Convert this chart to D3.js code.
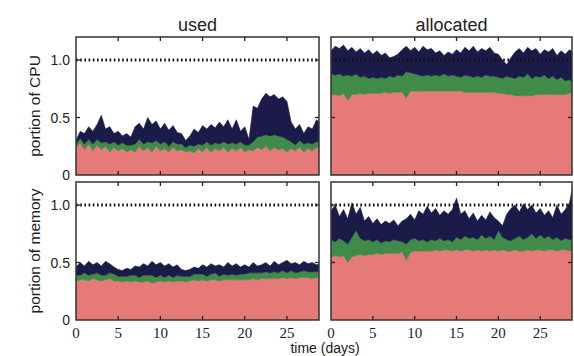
<!DOCTYPE html>
<html>
<head>
<meta charset="utf-8">
<script src="https://cdn.jsdelivr.net/npm/d3@7"></script>
<style>
  html, body { margin: 0; padding: 0; background: #fff; }
  svg { display: block; }
</style>
</head>
<body>
<svg id="chart" width="574" height="356"></svg>
<script>
// ---------- data (sampled every half day) ----------
const days = d3.range(0, 29.5, 0.5);
const layerKeys = ["pink", "green", "navy"];
const colTitles = ["used", "allocated"];
const rowTitles = ["portion of CPU", "portion of memory"];
const xTickValues = [0, 5, 10, 15, 20, 25];
const yTickValues = [0, 0.5, 1.0];
const yTickLabels = ["0", "0.5", "1.0"];
const xAxisTitle = "time (days)";
const limitValue = 1.0;

// CPU used
const cpuUsedPink = [0.24,0.28,0.22,0.27,0.21,0.26,0.22,0.25,0.20,0.24,
  0.21,0.23,0.20,0.22,0.20,0.25,0.21,0.24,0.20,0.25,
  0.21,0.23,0.20,0.24,0.21,0.22,0.20,0.21,0.19,0.23,
  0.20,0.24,0.20,0.23,0.21,0.24,0.20,0.23,0.21,0.24,
  0.20,0.22,0.21,0.24,0.22,0.25,0.21,0.24,0.22,0.23,
  0.20,0.23,0.21,0.24,0.20,0.23,0.21,0.24,0.22];
const cpuUsedGreen = [0.03,0.04,0.05,0.04,0.06,0.05,0.06,0.04,0.07,0.05,
  0.05,0.05,0.06,0.04,0.07,0.06,0.06,0.05,0.08,0.05,
  0.06,0.06,0.05,0.05,0.06,0.05,0.04,0.05,0.06,0.04,
  0.06,0.05,0.06,0.05,0.06,0.05,0.07,0.05,0.06,0.05,
  0.06,0.04,0.08,0.09,0.12,0.10,0.13,0.11,0.12,0.10,
  0.11,0.06,0.05,0.06,0.07,0.05,0.06,0.05,0.06];
const cpuUsedNavy = [0.03,0.06,0.09,0.11,0.11,0.13,0.24,0.11,0.15,0.07,
  0.12,0.06,0.10,0.07,0.15,0.14,0.13,0.21,0.16,0.17,
  0.13,0.16,0.14,0.14,0.10,0.09,0.06,0.08,0.15,0.10,
  0.17,0.11,0.18,0.13,0.19,0.13,0.21,0.12,0.21,0.09,
  0.16,0.05,0.31,0.25,0.32,0.36,0.34,0.35,0.32,0.35,
  0.33,0.17,0.14,0.14,0.09,0.14,0.13,0.19,0.17];

// CPU allocated
const cpuAllocPink = [0.70,0.70,0.69,0.71,0.65,0.70,0.70,0.71,0.70,0.71,
  0.71,0.71,0.71,0.72,0.71,0.72,0.72,0.72,0.67,0.73,
  0.73,0.73,0.73,0.73,0.73,0.73,0.73,0.73,0.73,0.73,
  0.73,0.73,0.72,0.72,0.72,0.72,0.72,0.72,0.72,0.72,
  0.71,0.71,0.70,0.70,0.69,0.69,0.69,0.69,0.69,0.70,
  0.70,0.70,0.70,0.70,0.70,0.70,0.70,0.71,0.71];
const cpuAllocGreen = [0.18,0.17,0.19,0.15,0.22,0.16,0.18,0.14,0.16,0.13,
  0.14,0.13,0.14,0.12,0.15,0.13,0.15,0.14,0.23,0.16,
  0.15,0.14,0.13,0.14,0.13,0.14,0.13,0.15,0.13,0.14,
  0.13,0.12,0.15,0.14,0.13,0.14,0.13,0.15,0.14,0.14,
  0.14,0.13,0.16,0.15,0.15,0.17,0.16,0.19,0.15,0.16,
  0.15,0.17,0.14,0.16,0.13,0.15,0.12,0.12,0.09];
const cpuAllocNavy = [0.20,0.25,0.22,0.27,0.21,0.25,0.19,0.25,0.20,0.25,
  0.20,0.24,0.19,0.22,0.16,0.18,0.18,0.23,0.22,0.19,
  0.23,0.20,0.26,0.22,0.24,0.19,0.22,0.16,0.21,0.18,
  0.23,0.21,0.24,0.22,0.27,0.21,0.25,0.21,0.25,0.20,
  0.20,0.16,0.10,0.17,0.23,0.24,0.21,0.23,0.24,0.24,
  0.20,0.22,0.23,0.24,0.21,0.23,0.23,0.26,0.26];

// memory used
const memUsedPink = [0.34,0.35,0.35,0.34,0.36,0.35,0.34,0.35,0.36,0.34,
  0.34,0.33,0.34,0.33,0.34,0.33,0.33,0.34,0.32,0.33,
  0.34,0.33,0.34,0.33,0.34,0.34,0.33,0.34,0.35,0.34,
  0.35,0.34,0.35,0.35,0.34,0.35,0.35,0.35,0.35,0.35,
  0.35,0.35,0.36,0.35,0.36,0.36,0.36,0.36,0.36,0.37,
  0.36,0.37,0.36,0.37,0.37,0.37,0.36,0.37,0.37];
const memUsedGreen = [0.05,0.04,0.06,0.05,0.04,0.06,0.05,0.04,0.05,0.06,
  0.04,0.05,0.04,0.06,0.05,0.04,0.06,0.05,0.07,0.04,
  0.05,0.04,0.05,0.04,0.05,0.04,0.05,0.04,0.05,0.06,
  0.05,0.04,0.05,0.06,0.04,0.05,0.04,0.05,0.04,0.05,
  0.05,0.06,0.05,0.06,0.05,0.06,0.05,0.06,0.05,0.06,
  0.05,0.06,0.05,0.05,0.06,0.05,0.06,0.05,0.05];
const memUsedNavy = [0.07,0.11,0.06,0.12,0.08,0.09,0.08,0.12,0.08,0.06,
  0.06,0.05,0.07,0.05,0.08,0.09,0.10,0.08,0.12,0.11,
  0.11,0.10,0.10,0.09,0.09,0.06,0.05,0.06,0.06,0.05,
  0.08,0.08,0.09,0.06,0.10,0.06,0.11,0.07,0.10,0.06,
  0.08,0.05,0.09,0.06,0.07,0.08,0.06,0.09,0.07,0.07,
  0.11,0.06,0.09,0.06,0.08,0.07,0.08,0.06,0.07];

// memory allocated
const memAllocPink = [0.55,0.56,0.55,0.56,0.50,0.55,0.56,0.57,0.56,0.57,
  0.57,0.58,0.57,0.58,0.58,0.58,0.58,0.59,0.52,0.59,
  0.60,0.60,0.60,0.60,0.60,0.61,0.60,0.61,0.61,0.60,
  0.61,0.60,0.61,0.61,0.60,0.61,0.60,0.61,0.60,0.61,
  0.60,0.61,0.60,0.60,0.61,0.60,0.60,0.61,0.60,0.61,
  0.61,0.60,0.61,0.61,0.60,0.61,0.61,0.60,0.61];
const memAllocGreen = [0.15,0.12,0.16,0.13,0.16,0.17,0.22,0.14,0.13,0.13,
  0.11,0.12,0.10,0.11,0.10,0.12,0.11,0.09,0.14,0.11,
  0.11,0.09,0.10,0.08,0.10,0.08,0.11,0.08,0.09,0.08,
  0.11,0.10,0.12,0.10,0.12,0.09,0.14,0.10,0.13,0.09,
  0.18,0.11,0.10,0.09,0.10,0.13,0.10,0.11,0.15,0.10,
  0.13,0.11,0.12,0.09,0.12,0.08,0.10,0.10,0.08];
const memAllocNavy = [0.25,0.32,0.19,0.27,0.22,0.30,0.14,0.27,0.17,0.20,
  0.16,0.18,0.16,0.17,0.16,0.17,0.13,0.18,0.22,0.22,
  0.16,0.26,0.22,0.31,0.23,0.28,0.20,0.26,0.22,0.28,
  0.34,0.22,0.22,0.17,0.21,0.16,0.17,0.16,0.21,0.19,
  0.08,0.10,0.22,0.28,0.29,0.21,0.31,0.24,0.25,0.22,
  0.23,0.20,0.22,0.19,0.28,0.23,0.25,0.32,0.51];

// ---------- layout ----------
const colors = { pink: "#e67a78", green: "#3f8b47", navy: "#1b1b4a" };
const colX = [[76, 319], [331, 572]];
const rowY = [[37, 175], [182, 320]];

const panels = [
  { row: 0, col: 0, layers: [cpuUsedPink, cpuUsedGreen, cpuUsedNavy] },
  { row: 0, col: 1, layers: [cpuAllocPink, cpuAllocGreen, cpuAllocNavy] },
  { row: 1, col: 0, layers: [memUsedPink, memUsedGreen, memUsedNavy] },
  { row: 1, col: 1, layers: [memAllocPink, memAllocGreen, memAllocNavy] }
];

const svg = d3.select("#chart");
const sans = "'Liberation Sans', Arial, Helvetica, sans-serif";
const serif = "'Liberation Serif', 'Times New Roman', serif";
const defs = svg.append("defs");

panels.forEach((p, i) => {
  const x = d3.scaleLinear().domain([0, 28.8]).range(colX[p.col]);
  const y = d3.scaleLinear().domain([0, 1.2]).range([rowY[p.row][1], rowY[p.row][0]]);

  const rows = days.map((d, k) => ({
    day: d, pink: p.layers[0][k], green: p.layers[1][k], navy: p.layers[2][k]
  }));
  const stacked = d3.stack().keys(layerKeys)(rows);

  const clipId = "clip" + i;
  defs.append("clipPath").attr("id", clipId).append("rect")
    .attr("x", colX[p.col][0]).attr("y", rowY[p.row][0])
    .attr("width", colX[p.col][1] - colX[p.col][0])
    .attr("height", rowY[p.row][1] - rowY[p.row][0]);

  const g = svg.append("g");
  const area = d3.area()
    .x(d => x(d.data.day))
    .y0(d => y(d[0]))
    .y1(d => y(d[1]));

  g.append("g").attr("clip-path", `url(#${clipId})`)
    .selectAll("path").data(stacked).join("path")
    .attr("d", area)
    .attr("fill", s => colors[s.key])
    .attr("stroke", s => colors[s.key])
    .attr("stroke-width", 0.6);

  // dotted limit line at 1.0
  g.append("line")
    .attr("x1", colX[p.col][0]).attr("x2", colX[p.col][1])
    .attr("y1", y(limitValue)).attr("y2", y(limitValue))
    .attr("stroke", "#111").attr("stroke-width", 3)
    .attr("stroke-dasharray", "1.6,2.6");

  // inward ticks on all four sides
  const tl = 4;
  const yT = yTickValues.filter(v => v > 0);
  const xT = xTickValues.filter(v => v > 0);
  const tk = g.append("g").attr("stroke", "#222").attr("stroke-width", 1.3);
  yT.forEach(v => {
    tk.append("line").attr("x1", colX[p.col][0]).attr("x2", colX[p.col][0] + tl)
      .attr("y1", y(v)).attr("y2", y(v));
    tk.append("line").attr("x1", colX[p.col][1]).attr("x2", colX[p.col][1] - tl)
      .attr("y1", y(v)).attr("y2", y(v));
  });
  xT.forEach(v => {
    tk.append("line").attr("x1", x(v)).attr("x2", x(v))
      .attr("y1", rowY[p.row][1]).attr("y2", rowY[p.row][1] - tl);
    tk.append("line").attr("x1", x(v)).attr("x2", x(v))
      .attr("y1", rowY[p.row][0]).attr("y2", rowY[p.row][0] + tl);
  });

  // frame
  g.append("rect")
    .attr("x", colX[p.col][0]).attr("y", rowY[p.row][0])
    .attr("width", colX[p.col][1] - colX[p.col][0])
    .attr("height", rowY[p.row][1] - rowY[p.row][0])
    .attr("fill", "none").attr("stroke", "#333").attr("stroke-width", 1.5);

  // y tick labels (left column)
  if (p.col === 0) {
    g.selectAll("text.yl").data(yTickValues).join("text")
      .attr("x", colX[0][0] - 6).attr("y", v => y(v))
      .attr("dy", "0.36em").attr("text-anchor", "end")
      .attr("font-family", sans).attr("font-size", 14).attr("fill", "#222")
      .text((v, k) => yTickLabels[k]);
    g.append("text")
      .attr("transform", `translate(40,${(rowY[p.row][0] + rowY[p.row][1]) / 2}) rotate(-90)`)
      .attr("text-anchor", "middle")
      .attr("font-family", sans).attr("font-size", 15.5).attr("fill", "#222")
      .text(rowTitles[p.row]);
  }
  // x tick labels (bottom row)
  if (p.row === 1) {
    g.selectAll("text.xl").data(xTickValues).join("text")
      .attr("x", v => x(v)).attr("y", 338)
      .attr("text-anchor", "middle")
      .attr("font-family", serif).attr("font-size", 15).attr("fill", "#222")
      .text(v => v);
  }
  // column titles
  if (p.row === 0) {
    g.append("text")
      .attr("x", (colX[p.col][0] + colX[p.col][1]) / 2).attr("y", 31)
      .attr("text-anchor", "middle")
      .attr("font-family", sans).attr("font-size", 18).attr("fill", "#222")
      .text(colTitles[p.col]);
  }
});

svg.append("text")
  .attr("x", 325).attr("y", 353)
  .attr("text-anchor", "middle")
  .attr("font-family", sans).attr("font-size", 14).attr("fill", "#222")
  .text(xAxisTitle);
</script>
</body>
</html>
